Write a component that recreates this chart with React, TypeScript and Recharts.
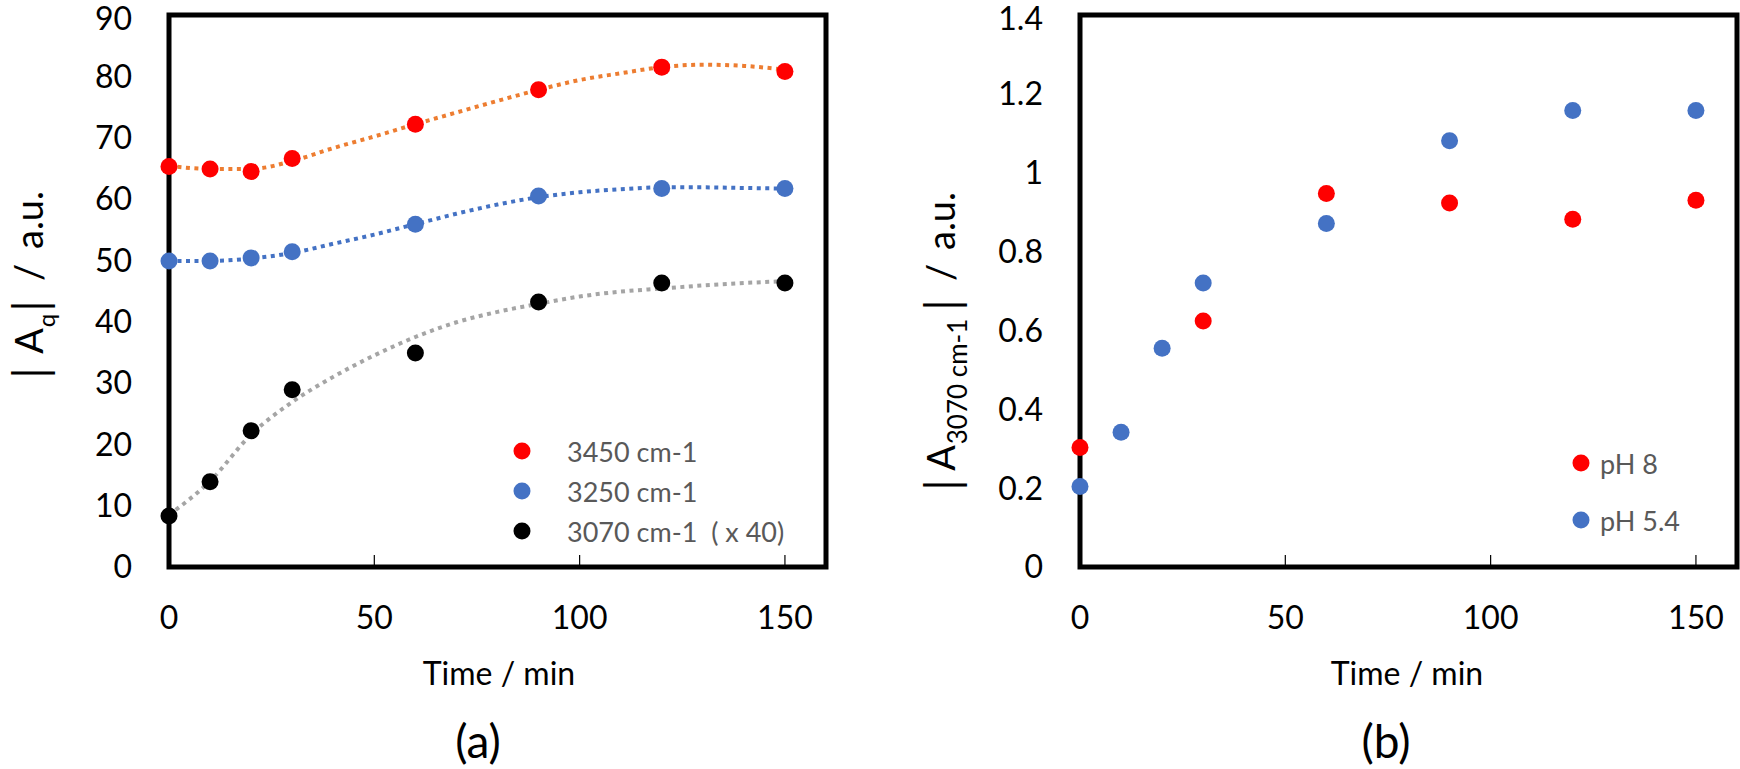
import React from "react";
import {
  ComposedChart, Scatter, Line, XAxis, YAxis, ReferenceArea, Legend,
} from "recharts";

const FONT = "Lato, 'Open Sans', sans-serif";

// (a) measured band areas, time in min
const times = [0, 10, 20, 30, 60, 90, 120, 150];
const a3450 = [65.3, 64.9, 64.5, 66.6, 72.2, 77.8, 81.5, 80.8];
const a3250 = [49.9, 49.9, 50.4, 51.4, 55.9, 60.5, 61.7, 61.7];
const a3070x40 = [8.3, 13.9, 22.2, 28.9, 34.9, 43.2, 46.3, 46.3];

// (a) dotted trend lines, every 10 min
const fitTimes = [0, 10, 20, 30, 40, 50, 60, 70, 80, 90, 100, 110, 120, 130, 140, 150];
const fit3450 = [65.4, 64.9, 64.9, 66.2, 68.3, 70.2, 72.2, 74.1, 76.0, 77.8, 79.4, 80.5, 81.5, 81.9, 81.7, 81.1];
const fit3250 = [49.9, 49.9, 50.3, 51.2, 52.7, 54.2, 55.9, 57.6, 59.1, 60.3, 61.1, 61.6, 61.9, 61.9, 61.8, 61.7];
const fit3070 = [8.5, 14.0, 21.6, 26.9, 31.0, 34.5, 37.5, 39.9, 41.6, 42.9, 44.1, 44.9, 45.4, 45.9, 46.3, 46.6];

// (b) A(3070 cm-1) at two pH values
const timesPH8 = [0, 30, 60, 90, 120, 150];
const ph8 = [0.303, 0.624, 0.947, 0.923, 0.882, 0.93];
const timesPH54 = [0, 10, 20, 30, 60, 90, 120, 150];
const ph54 = [0.204, 0.342, 0.555, 0.72, 0.871, 1.081, 1.158, 1.158];

const namesA = ["3450 cm-1", "3250 cm-1", "3070 cm-1  ( x 40)"];
const namesB = ["pH 8", "pH 5.4"];

const xTicks = [0, 50, 100, 150];
const yTicksA = [0, 10, 20, 30, 40, 50, 60, 70, 80, 90];
const yTicksB = [0, 0.2, 0.4, 0.6, 0.8, 1, 1.2, 1.4];

const pts = (ts: number[], vs: number[]) => ts.map((t, i) => ({ t, v: vs[i] }));

const dot = (color: string) => (p: any) =>
  <circle cx={p.cx} cy={p.cy} r={8.5} fill={color} />;

function XTick({ x, y, payload }: any) {
  return (
    <g>
      <line x1={x} x2={x} y1={y} y2={y - 12} stroke="#000" strokeWidth={1.2} />
      <text x={x} y={y + 50} dy="0.36em" textAnchor="middle" fontSize={32}
            fontFamily={FONT} fill="#000">{payload.value}</text>
    </g>
  );
}

type Piece = { s: string; at: number; base: number; size: number };

function RotTitle({ pieces }: { pieces: Piece[] }) {
  return (
    <g>
      {pieces.map((p, i) => (
        <text key={i} transform={`translate(${p.base},${p.at}) rotate(-90)`}
              textAnchor="middle" fontSize={p.size} fontFamily={FONT} fill="#000">{p.s}</text>
      ))}
    </g>
  );
}

function XTitle({ cx, panel }: { cx: number; panel: string }) {
  return (
    <g fontFamily={FONT} fill="#000" textAnchor="middle">
      <text x={cx} y={673} dy="0.36em" fontSize={32}>Time / min</text>
      <text x={cx - 21} y={743} dy="0.33em" fontSize={46}>{panel}</text>
    </g>
  );
}

function LegendBox({ payload, order, rowH, gap }: any) {
  const items = (payload || [])
    .filter((it: any) => order.includes(it.value))
    .sort((a: any, b: any) => order.indexOf(a.value) - order.indexOf(b.value));
  return (
    <div style={{ fontFamily: FONT, fontSize: 27, color: "#595959" }}>
      {items.map((it: any) => (
        <div key={it.value} style={{ display: "flex", alignItems: "center", height: rowH }}>
          <svg width={18} height={18}><circle cx={9} cy={9} r={8.5} fill={it.color} /></svg>
          <span style={{ marginLeft: gap, lineHeight: 1, whiteSpace: "pre" }}>{it.value}</span>
        </div>
      ))}
    </div>
  );
}

const titleA: Piece[] = [
  { s: "|", at: 373, base: 47, size: 46 },
  { s: "A", at: 341, base: 43, size: 38 },
  { s: "q", at: 320.5, base: 55, size: 24 },
  { s: "|", at: 306, base: 47, size: 46 },
  { s: "/", at: 272.5, base: 43, size: 38 },
  { s: "a.u.", at: 220, base: 43, size: 38 },
];

const titleB: Piece[] = [
  { s: "|", at: 485, base: 79, size: 46 },
  { s: "A", at: 458, base: 75, size: 38 },
  { s: "3070 cm-1", at: 381.5, base: 87, size: 26 },
  { s: "|", at: 305, base: 79, size: 46 },
  { s: "/", at: 272.5, base: 75, size: 38 },
  { s: "a.u.", at: 221, base: 75, size: 38 },
];

const frame = { fill: "none", stroke: "#000", strokeWidth: 5 };
const yTick = { fontSize: 32, fill: "#000", fontFamily: FONT };

export default function App() {
  return (
    <div style={{ position: "absolute", left: 0, top: 0, width: 1740, height: 769, background: "#fff" }}>
      <div style={{ position: "absolute", left: 0, top: 0 }}>
        <ComposedChart width={880} height={769} margin={{ top: 15, right: 54, left: 19, bottom: 52 }}>
          <XAxis type="number" dataKey="t" domain={[0, 160]} ticks={xTicks} height={150}
                 axisLine={false} tickLine={false} tickSize={0} tickMargin={0} tick={<XTick />}
                 label={() => <XTitle cx={499} panel="(a)" />} />
          <YAxis type="number" domain={[0, 90]} ticks={yTicksA} width={150}
                 axisLine={false} tickLine={false} tickSize={0} tickMargin={37} tick={yTick}
                 label={() => <RotTitle pieces={titleA} />} />
          <ReferenceArea x1={0} x2={160} y1={0} y2={90} {...frame} />
          <Scatter name={namesA[0]} data={pts(times, a3450)} dataKey="v" fill="#FF0000"
                   shape={dot("#FF0000")} isAnimationActive={false} />
          <Scatter name={namesA[1]} data={pts(times, a3250)} dataKey="v" fill="#4472C4"
                   shape={dot("#4472C4")} isAnimationActive={false} />
          <Scatter name={namesA[2]} data={pts(times, a3070x40)} dataKey="v" fill="#000000"
                   shape={dot("#000000")} isAnimationActive={false} />
          <Line data={pts(fitTimes, fit3450)} dataKey="v" type="monotone" stroke="#ED7D31"
                strokeWidth={4} strokeDasharray="4 4.5" dot={false} legendType="none" isAnimationActive={false} />
          <Line data={pts(fitTimes, fit3250)} dataKey="v" type="monotone" stroke="#4472C4"
                strokeWidth={4} strokeDasharray="4 4.5" dot={false} legendType="none" isAnimationActive={false} />
          <Line data={pts(fitTimes, fit3070)} dataKey="v" type="monotone" stroke="#A5A5A5"
                strokeWidth={4} strokeDasharray="4 4.5" dot={false} legendType="none" isAnimationActive={false} />
          <Legend layout="vertical" align="center" verticalAlign="middle"
                  wrapperStyle={{ left: 513, top: 431, width: 320 }}
                  content={(p: any) => <LegendBox payload={p.payload} order={namesA} rowH={40} gap={36} />} />
        </ComposedChart>
      </div>
      <div style={{ position: "absolute", left: 880, top: 0 }}>
        <ComposedChart width={860} height={769} margin={{ top: 15, right: 3, left: 50, bottom: 52 }}>
          <XAxis type="number" dataKey="t" domain={[0, 160]} ticks={xTicks} height={150}
                 axisLine={false} tickLine={false} tickSize={0} tickMargin={0} tick={<XTick />}
                 label={() => <XTitle cx={527} panel="(b)" />} />
          <YAxis type="number" domain={[0, 1.4]} ticks={yTicksB} width={150}
                 axisLine={false} tickLine={false} tickSize={0} tickMargin={37} tick={yTick}
                 label={() => <RotTitle pieces={titleB} />} />
          <ReferenceArea x1={0} x2={160} y1={0} y2={1.4} {...frame} />
          <Scatter name={namesB[0]} data={pts(timesPH8, ph8)} dataKey="v" fill="#FF0000"
                   shape={dot("#FF0000")} isAnimationActive={false} />
          <Scatter name={namesB[1]} data={pts(timesPH54, ph54)} dataKey="v" fill="#4472C4"
                   shape={dot("#4472C4")} isAnimationActive={false} />
          <Legend layout="vertical" align="center" verticalAlign="middle"
                  wrapperStyle={{ left: 691.5, top: 434.5, width: 160 }}
                  content={(p: any) => <LegendBox payload={p.payload} order={namesB} rowH={57} gap={10.5} />} />
        </ComposedChart>
      </div>
    </div>
  );
}
